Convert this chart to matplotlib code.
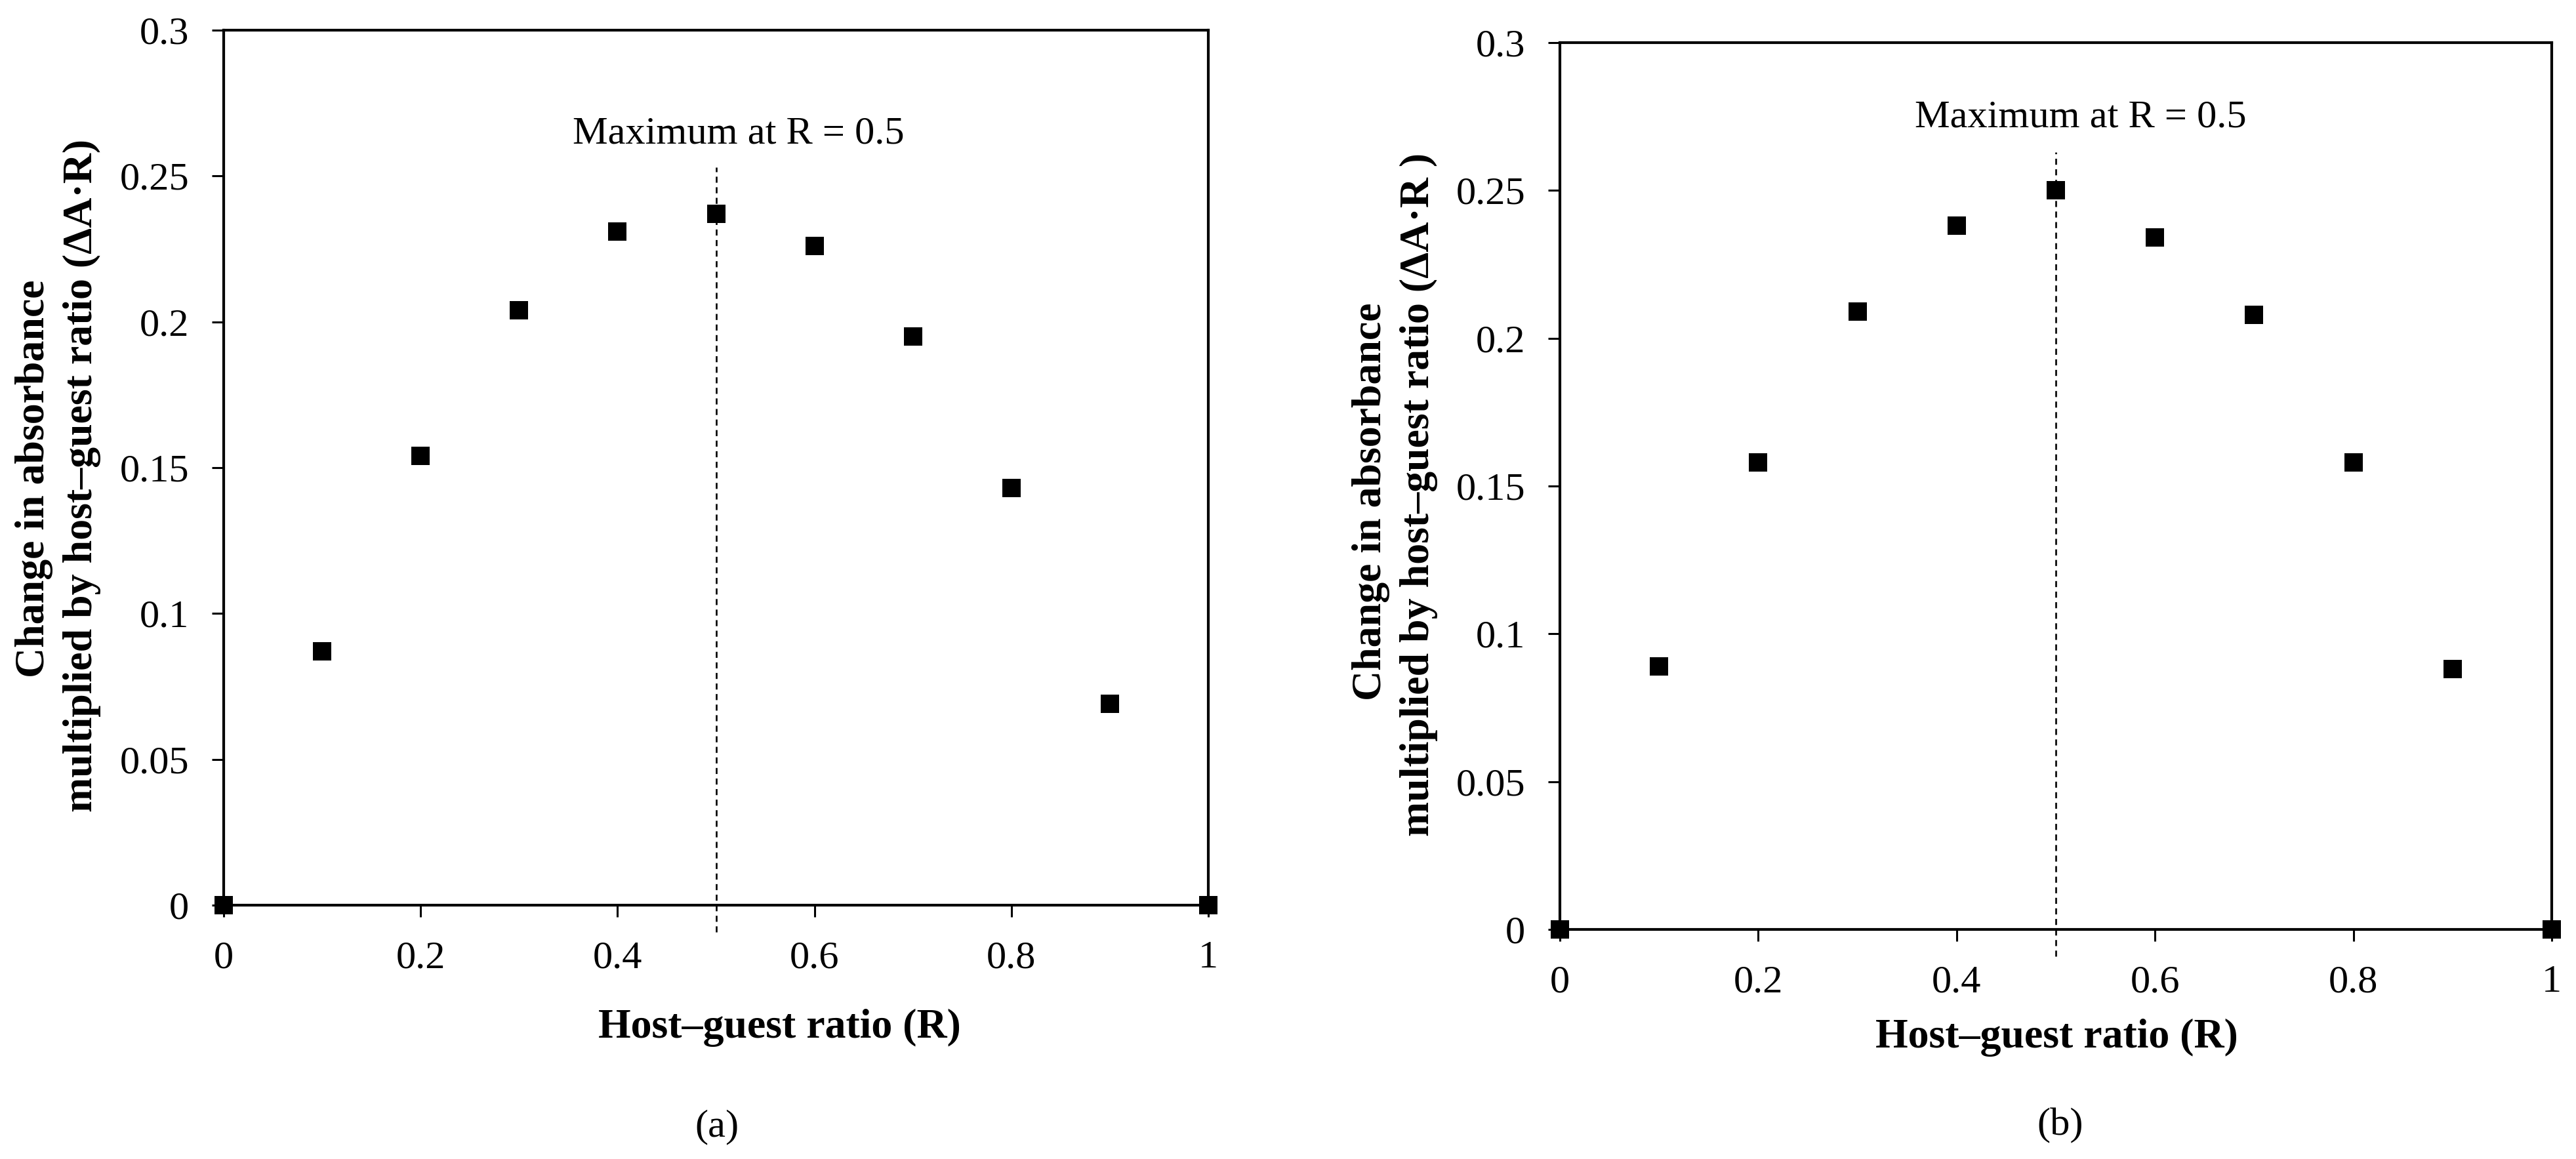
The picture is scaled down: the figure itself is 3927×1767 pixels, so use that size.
import numpy as np
from matplotlib import pyplot as plt

plt.rcParams['font.family'] = ['Liberation Serif', 'DejaVu Serif']

# data
ratio = [0.0, 0.1, 0.2, 0.3, 0.4, 0.5, 0.6, 0.7, 0.8, 0.9, 1.0]
dA_R_a = [0.0, 0.087, 0.154, 0.204, 0.231, 0.237, 0.226, 0.195, 0.143, 0.069, 0.0]
dA_R_b = [0.0, 0.089, 0.158, 0.209, 0.238, 0.250, 0.234, 0.208, 0.158, 0.088, 0.0]
y_ticks = [0, 0.05, 0.1, 0.15, 0.2, 0.25, 0.3]
y_labels = ["0", "0.05", "0.1", "0.15", "0.2", "0.25", "0.3"]
x_ticks = [0, 0.2, 0.4, 0.6, 0.8, 1.0]
x_labels = ["0", "0.2", "0.4", "0.6", "0.8", "1"]

W, H = 3927, 1767
fig = plt.figure(figsize=(W / 100, H / 100), dpi=100)


def px_axes(x0, y0, x1, y1):
    # pixel box (left, top, right, bottom) -> figure fraction
    return fig.add_axes([x0 / W, 1 - y1 / H, (x1 - x0) / W, (y1 - y0) / H])


def setup(ax, vals, note_y, note_x, line_top):
    ax.plot(ratio, vals, ls="none", marker="s", ms=20, mew=0, color="black",
            clip_on=False, zorder=5)
    ax.plot([0.5, 0.5], [-0.0092, line_top], color="black", lw=1.9,
            dashes=(3.5, 2.6), clip_on=False, zorder=3)
    ax.text(note_x, note_y, "Maximum at R = 0.5", fontsize=43.5,
            ha="center", va="baseline")
    ax.set_xlim(0, 1)
    ax.set_ylim(0, 0.3)
    ax.set_xticks(x_ticks)
    ax.set_xticklabels(x_labels)
    ax.set_yticks(y_ticks)
    ax.set_yticklabels(y_labels)
    ax.tick_params(axis="both", direction="out", length=13, width=2.2,
                   labelsize=43.5, color="black")
    ax.tick_params(axis="x", pad=26)
    ax.tick_params(axis="y", pad=25)
    for s in ax.spines.values():
        s.set_linewidth(3)
        s.set_color("black")


ax1 = px_axes(341, 46, 1842, 1380)
setup(ax1, dA_R_a, 0.2613, 0.523, 0.253)
ax2 = px_axes(2378, 65, 3890, 1417)
setup(ax2, dA_R_b, 0.2714, 0.525, 0.263)


def ftext(x, y, s, **kw):
    fig.text(x / W, 1 - y / H, s, **kw)


# y labels, two lines each, placed by baseline
ftext(67, 730, "Change in absorbance", rotation=90, rotation_mode="anchor",
      ha="center", va="baseline", fontsize=46, fontweight="bold")
ftext(140, 725, "multiplied by host\u2013guest ratio (\u0394A\u00b7R)", rotation=90,
      rotation_mode="anchor", ha="center", va="baseline", fontsize=46,
      fontweight="bold")
ftext(2105, 765, "Change in absorbance", rotation=90, rotation_mode="anchor",
      ha="center", va="baseline", fontsize=46, fontweight="bold")
ftext(2178, 754, "multiplied by host\u2013guest ratio (\u0394A\u00b7R )", rotation=90,
      rotation_mode="anchor", ha="center", va="baseline", fontsize=46,
      fontweight="bold")

# x labels
ftext(1188, 1567, "Host\u2013guest ratio (R)", ha="center", va="center",
      fontsize=46, fontweight="bold")
ftext(3135, 1582, "Host\u2013guest ratio (R)", ha="center", va="center",
      fontsize=46, fontweight="bold")

# panel tags
ftext(1093, 1718, "(a)", ha="center", va="center", fontsize=43.5)
ftext(3141, 1716, "(b)", ha="center", va="center", fontsize=43.5)

fig.savefig("out.png", dpi=100, facecolor="white")
